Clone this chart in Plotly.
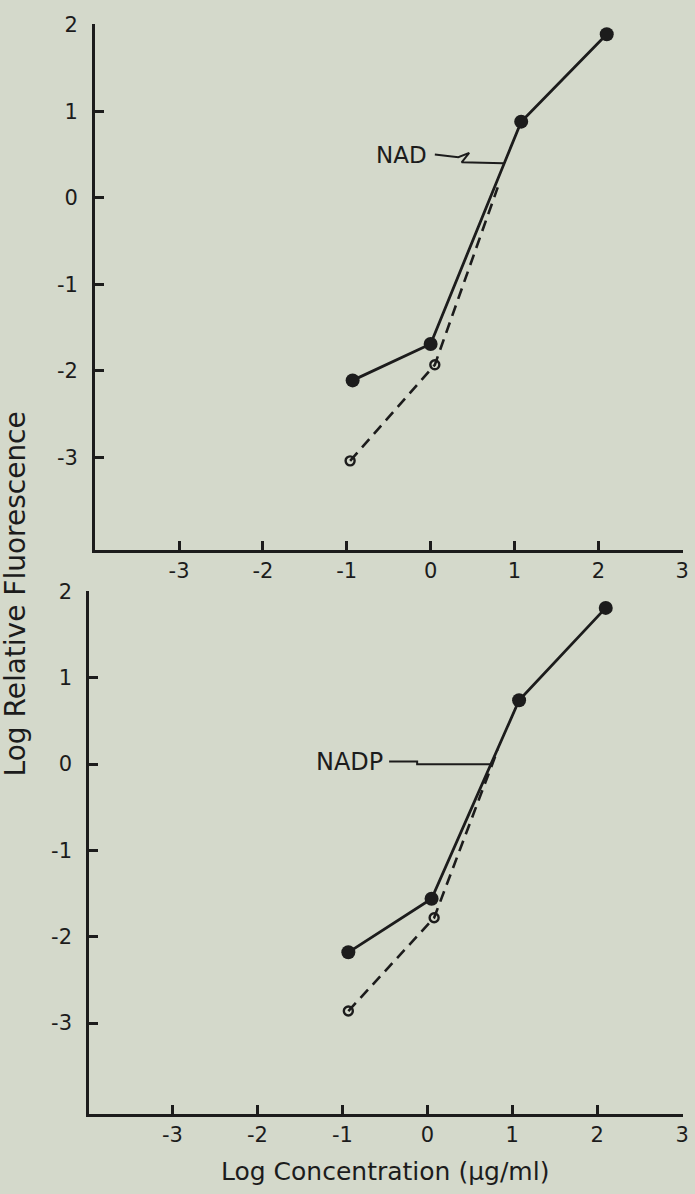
import plotly.graph_objects as go

# ---- data ----
nad_solid_x = [-0.93, 0.0, 1.08, 2.10]
nad_solid_y = [-2.11, -1.69, 0.88, 1.89]
nad_open_x = [-0.96, 0.05, 0.80]
nad_open_y = [-3.04, -1.93, 0.12]
nad_open_marker = [True, True, False]

nadp_solid_x = [-0.93, 0.05, 1.08, 2.10]
nadp_solid_y = [-2.18, -1.56, 0.74, 1.81]
nadp_open_x = [-0.93, 0.08, 0.83]
nadp_open_y = [-2.86, -1.78, 0.17]
nadp_open_marker = [True, True, False]

nad_leader_x = [0.05, 0.33, 0.46, 0.37, 0.87]
nad_leader_y = [0.50, 0.47, 0.52, 0.41, 0.40]
nadp_leader_x = [-0.45, -0.12, -0.12, 0.75]
nadp_leader_y = [0.03, 0.03, 0.0, 0.0]

x_ticks = [-3, -2, -1, 0, 1, 2, 3]
y_ticks = [2, 1, 0, -1, -2, -3]
x_ticktext = ["-3", "-2", "-1", "0", "1", "2", "3"]
y_ticktext = ["2", "1", "0", "-1", "-2", "-3"]

INK = "#1c1c1c"
BG = "#d4d9cb"
FONT = "DejaVu Sans"

fig = go.Figure()

def add_panel(sx, sy, ox, oy, omask, lx, ly, xa, ya):
    fig.add_trace(go.Scatter(x=lx, y=ly, mode="lines", xaxis=xa, yaxis=ya,
                             line=dict(color=INK, width=2), showlegend=False))
    fig.add_trace(go.Scatter(x=ox, y=oy, mode="lines", xaxis=xa, yaxis=ya,
                             line=dict(color=INK, width=2.6, dash="11px,7px"),
                             showlegend=False))
    mx = [x for x, m in zip(ox, omask) if m]
    my = [y for y, m in zip(oy, omask) if m]
    fig.add_trace(go.Scatter(x=mx, y=my, mode="markers", xaxis=xa, yaxis=ya,
                             marker=dict(symbol="circle-open", size=9, color=INK,
                                         line=dict(width=2.4)),
                             showlegend=False))
    fig.add_trace(go.Scatter(x=sx, y=sy, mode="lines+markers", xaxis=xa, yaxis=ya,
                             line=dict(color=INK, width=2.8),
                             marker=dict(symbol="circle", size=14, color=INK),
                             showlegend=False))

add_panel(nad_solid_x, nad_solid_y, nad_open_x, nad_open_y, nad_open_marker,
          nad_leader_x, nad_leader_y, "x", "y")
add_panel(nadp_solid_x, nadp_solid_y, nadp_open_x, nadp_open_y, nadp_open_marker,
          nadp_leader_x, nadp_leader_y, "x2", "y2")

W, H = 695, 1194

def xdom(a, b):
    return [a / W, b / W]

def ydom(top, bottom):
    return [1 - bottom / H, 1 - top / H]

axis_common = dict(showline=True, linecolor=INK, linewidth=3, ticks="inside",
                   ticklen=9, tickwidth=3, tickcolor=INK, showgrid=False,
                   zeroline=False, tickfont=dict(family=FONT, size=21, color=INK),
                   fixedrange=True)

fig.update_layout(
    width=W, height=H, margin=dict(l=0, r=0, t=0, b=0),
    paper_bgcolor=BG, plot_bgcolor=BG,
    xaxis=dict(domain=xdom(96, 689), range=[-4.0, 3.01], tickvals=x_ticks,
               ticktext=x_ticktext, anchor="y", ticklabelstandoff=0, **axis_common),
    yaxis=dict(domain=ydom(13, 544), range=[-4.07, 2.01], tickvals=y_ticks,
               ticktext=y_ticktext, anchor="x", ticklabelstandoff=10, **axis_common),
    xaxis2=dict(domain=xdom(90, 689), range=[-3.98, 3.01], tickvals=x_ticks,
                ticktext=x_ticktext, anchor="y2", ticklabelstandoff=0, **axis_common),
    yaxis2=dict(domain=ydom(585, 1113), range=[-4.05, 2.01], tickvals=y_ticks,
                ticktext=y_ticktext, anchor="x2", ticklabelstandoff=10, **axis_common),
    annotations=[
        dict(text="NAD", x=-0.02, y=0.5, xref="x", yref="y", xanchor="right",
             yanchor="middle", showarrow=False,
             font=dict(family=FONT, size=23, color=INK)),
        dict(text="NADP", x=-0.5, y=0.02, xref="x2", yref="y2", xanchor="right",
             yanchor="middle", showarrow=False,
             font=dict(family=FONT, size=24, color=INK)),
        dict(text="Log Relative Fluorescence", x=16 / W, y=1 - 588 / H,
             xref="paper", yref="paper", textangle=-90, showarrow=False,
             xanchor="center", yanchor="middle",
             font=dict(family=FONT, size=28, color=INK)),
        dict(text="Log Concentration (μg/ml)", x=388 / W, y=1 - 1171 / H,
             xref="paper", yref="paper", showarrow=False,
             xanchor="center", yanchor="middle",
             font=dict(family=FONT, size=25, color=INK)),
    ],
)

fig.write_html(
    "out.html",
    config={"displayModeBar": False},
    post_script="document.body.style.margin='0px';"
                "document.body.style.background='#d4d9cb';",
)
